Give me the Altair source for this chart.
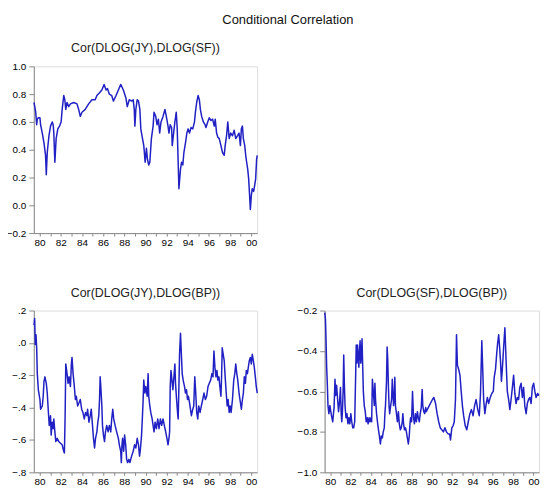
import altair as alt
import pandas as pd

# ---------------- data ----------------
X_TICKS = list(range(1980, 2001))

years_jy_sf = [1979.47, 1979.63, 1979.72, 1979.78, 1979.88, 1980.03, 1980.09, 1980.25, 1980.41, 1980.56,
               1980.63, 1980.72, 1980.88, 1981.03, 1981.19, 1981.28, 1981.34, 1981.44, 1981.56, 1981.72,
               1981.88, 1982.03, 1982.13, 1982.28, 1982.38, 1982.47, 1982.59, 1982.75, 1982.91, 1983.22,
               1983.53, 1983.69, 1983.84, 1984.00, 1984.31, 1984.63, 1984.94, 1985.25, 1985.41, 1985.66,
               1985.88, 1986.09, 1986.28, 1986.41, 1986.59, 1986.81, 1986.97, 1987.22, 1987.44, 1987.66,
               1987.91, 1988.16, 1988.28, 1988.47, 1988.69, 1988.84, 1988.94, 1989.00, 1989.09, 1989.22,
               1989.34, 1989.47, 1989.56, 1989.72, 1989.84, 1989.97, 1990.09, 1990.19, 1990.31, 1990.41,
               1990.56, 1990.72, 1990.81, 1990.97, 1991.09, 1991.22, 1991.34, 1991.47, 1991.66, 1991.84,
               1991.97, 1992.13, 1992.22, 1992.34, 1992.47, 1992.53, 1992.63, 1992.78, 1992.91, 1993.00,
               1993.16, 1993.31, 1993.41, 1993.53, 1993.63, 1993.78, 1993.91, 1994.03, 1994.16, 1994.31,
               1994.47, 1994.63, 1994.72, 1994.84, 1994.97, 1995.09, 1995.19, 1995.31, 1995.47, 1995.63,
               1995.72, 1995.88, 1996.03, 1996.19, 1996.34, 1996.50, 1996.59, 1996.72, 1996.84, 1996.97,
               1997.13, 1997.28, 1997.44, 1997.53, 1997.66, 1997.78, 1997.91, 1998.06, 1998.22, 1998.38,
               1998.53, 1998.69, 1998.84, 1998.97, 1999.06, 1999.16, 1999.25, 1999.38, 1999.47, 1999.56,
               1999.66, 1999.75, 1999.84, 1999.91, 2000.00, 2000.09, 2000.22, 2000.31, 2000.41, 2000.50,
               2000.56]
corr_jy_sf = [0.74, 0.67, 0.58, 0.62, 0.63, 0.63, 0.58, 0.52, 0.45, 0.36,
              0.22, 0.38, 0.50, 0.57, 0.60, 0.58, 0.52, 0.31, 0.48, 0.55,
              0.57, 0.60, 0.69, 0.79, 0.76, 0.69, 0.74, 0.71, 0.73, 0.74,
              0.73, 0.69, 0.64, 0.67, 0.69, 0.73, 0.76, 0.76, 0.79, 0.81,
              0.83, 0.87, 0.83, 0.84, 0.80, 0.79, 0.75, 0.79, 0.83, 0.87,
              0.83, 0.77, 0.71, 0.76, 0.75, 0.76, 0.69, 0.57, 0.69, 0.76,
              0.75, 0.69, 0.55, 0.48, 0.43, 0.31, 0.41, 0.33, 0.29, 0.31,
              0.48, 0.57, 0.67, 0.64, 0.58, 0.62, 0.52, 0.60, 0.64, 0.69,
              0.64, 0.57, 0.52, 0.58, 0.56, 0.43, 0.50, 0.60, 0.67, 0.55,
              0.12, 0.26, 0.31, 0.29, 0.38, 0.45, 0.52, 0.55, 0.52, 0.56,
              0.55, 0.60, 0.67, 0.74, 0.79, 0.76, 0.69, 0.64, 0.60, 0.58,
              0.56, 0.60, 0.63, 0.61, 0.62, 0.57, 0.62, 0.52, 0.49, 0.48,
              0.43, 0.38, 0.36, 0.43, 0.50, 0.60, 0.48, 0.52, 0.50, 0.54,
              0.48, 0.50, 0.52, 0.43, 0.55, 0.57, 0.48, 0.43, 0.36, 0.31,
              0.26, 0.19, 0.07, -0.03, 0.07, 0.12, 0.10, 0.14, 0.19, 0.33,
              0.36]

years_jy_bp = [1979.47, 1979.53, 1979.59, 1979.66, 1979.72, 1979.78, 1979.88, 1980.03, 1980.09, 1980.25,
               1980.34, 1980.41, 1980.50, 1980.63, 1980.72, 1980.81, 1980.91, 1981.03, 1981.09, 1981.19,
               1981.28, 1981.34, 1981.44, 1981.53, 1981.66, 1981.81, 1981.97, 1982.13, 1982.28, 1982.34,
               1982.41, 1982.47, 1982.59, 1982.69, 1982.78, 1982.91, 1983.00, 1983.06, 1983.16, 1983.28,
               1983.38, 1983.47, 1983.59, 1983.72, 1983.84, 1983.97, 1984.09, 1984.22, 1984.34, 1984.47,
               1984.53, 1984.66, 1984.78, 1984.88, 1984.97, 1985.09, 1985.19, 1985.28, 1985.41, 1985.50,
               1985.59, 1985.66, 1985.72, 1985.78, 1985.88, 1985.94, 1986.03, 1986.13, 1986.22, 1986.34,
               1986.47, 1986.59, 1986.72, 1986.81, 1986.91, 1987.00, 1987.13, 1987.28, 1987.44, 1987.53,
               1987.66, 1987.72, 1987.78, 1987.84, 1987.94, 1988.03, 1988.13, 1988.22, 1988.31, 1988.44,
               1988.53, 1988.69, 1988.84, 1988.97, 1989.09, 1989.22, 1989.34, 1989.44, 1989.53, 1989.63,
               1989.69, 1989.78, 1989.84, 1989.94, 1990.03, 1990.16, 1990.25, 1990.31, 1990.41, 1990.50,
               1990.63, 1990.72, 1990.81, 1990.91, 1991.03, 1991.16, 1991.28, 1991.41, 1991.53, 1991.66,
               1991.78, 1991.91, 1992.03, 1992.13, 1992.22, 1992.28, 1992.34, 1992.41, 1992.50, 1992.59,
               1992.69, 1992.78, 1992.84, 1992.94, 1993.03, 1993.09, 1993.16, 1993.22, 1993.31, 1993.38,
               1993.47, 1993.56, 1993.69, 1993.78, 1993.88, 1993.97, 1994.06, 1994.16, 1994.25, 1994.34,
               1994.47, 1994.56, 1994.66, 1994.75, 1994.84, 1994.94, 1995.03, 1995.16, 1995.28, 1995.41,
               1995.53, 1995.66, 1995.78, 1995.91, 1996.03, 1996.16, 1996.28, 1996.38, 1996.47, 1996.56,
               1996.66, 1996.75, 1996.84, 1996.94, 1997.03, 1997.13, 1997.19, 1997.25, 1997.34, 1997.44,
               1997.53, 1997.63, 1997.72, 1997.81, 1997.91, 1998.00, 1998.09, 1998.22, 1998.34, 1998.44,
               1998.53, 1998.63, 1998.72, 1998.84, 1998.97, 1999.06, 1999.16, 1999.25, 1999.34, 1999.44,
               1999.53, 1999.63, 1999.72, 1999.81, 1999.91, 2000.00, 2000.09, 2000.19, 2000.28, 2000.38,
               2000.47, 2000.56]
corr_jy_bp = [0.11, 0.15, -0.01, 0.05, -0.03, -0.19, -0.29, -0.35, -0.41, -0.39,
              -0.33, -0.24, -0.21, -0.25, -0.31, -0.41, -0.51, -0.45, -0.57, -0.49,
              -0.53, -0.47, -0.55, -0.61, -0.59, -0.61, -0.62, -0.63, -0.67, -0.68,
              -0.45, -0.13, -0.19, -0.25, -0.21, -0.27, -0.13, -0.09, -0.19, -0.27,
              -0.35, -0.33, -0.39, -0.37, -0.35, -0.41, -0.43, -0.47, -0.43, -0.45,
              -0.41, -0.49, -0.45, -0.41, -0.49, -0.59, -0.65, -0.59, -0.55, -0.49,
              -0.45, -0.35, -0.21, -0.27, -0.39, -0.51, -0.57, -0.61, -0.55, -0.51,
              -0.55, -0.51, -0.55, -0.47, -0.41, -0.47, -0.51, -0.55, -0.59, -0.63,
              -0.67, -0.74, -0.63, -0.59, -0.67, -0.57, -0.63, -0.72, -0.74, -0.72,
              -0.74, -0.70, -0.67, -0.63, -0.65, -0.59, -0.63, -0.70, -0.65, -0.57,
              -0.49, -0.35, -0.23, -0.31, -0.27, -0.33, -0.19, -0.33, -0.39, -0.43,
              -0.47, -0.51, -0.55, -0.49, -0.53, -0.47, -0.53, -0.47, -0.51, -0.47,
              -0.51, -0.55, -0.59, -0.63, -0.59, -0.55, -0.27, -0.17, -0.23, -0.29,
              -0.21, -0.13, -0.25, -0.35, -0.43, -0.47, -0.27, -0.07, 0.06, -0.05,
              -0.19, -0.23, -0.27, -0.31, -0.29, -0.35, -0.33, -0.37, -0.41, -0.45,
              -0.41, -0.39, -0.21, -0.31, -0.43, -0.47, -0.39, -0.43, -0.39, -0.35,
              -0.31, -0.35, -0.33, -0.27, -0.25, -0.23, -0.19, -0.21, -0.05, -0.15,
              -0.21, -0.17, -0.23, -0.21, -0.27, -0.33, -0.21, -0.03, -0.07, -0.11,
              -0.21, -0.31, -0.39, -0.35, -0.43, -0.39, -0.43, -0.35, -0.23, -0.19,
              -0.13, -0.19, -0.23, -0.31, -0.37, -0.41, -0.35, -0.31, -0.21, -0.25,
              -0.17, -0.19, -0.15, -0.11, -0.09, -0.13, -0.07, -0.11, -0.15, -0.21,
              -0.27, -0.31]

years_sf_bp = [1979.46, 1979.53, 1979.59, 1979.65, 1979.72, 1979.78, 1979.87, 1979.97, 1980.06, 1980.16,
               1980.25, 1980.32, 1980.38, 1980.47, 1980.54, 1980.63, 1980.73, 1980.82, 1980.92, 1981.01,
               1981.08, 1981.14, 1981.20, 1981.27, 1981.33, 1981.39, 1981.46, 1981.55, 1981.65, 1981.74,
               1981.84, 1981.93, 1982.03, 1982.12, 1982.22, 1982.31, 1982.41, 1982.50, 1982.56, 1982.63,
               1982.69, 1982.75, 1982.82, 1982.88, 1982.94, 1983.01, 1983.07, 1983.13, 1983.20, 1983.26,
               1983.35, 1983.45, 1983.54, 1983.64, 1983.73, 1983.83, 1983.92, 1984.02, 1984.08, 1984.15,
               1984.24, 1984.34, 1984.40, 1984.46, 1984.56, 1984.65, 1984.75, 1984.84, 1984.94, 1985.03,
               1985.13, 1985.22, 1985.32, 1985.38, 1985.44, 1985.54, 1985.60, 1985.66, 1985.73, 1985.79,
               1985.85, 1985.95, 1986.04, 1986.11, 1986.17, 1986.23, 1986.30, 1986.36, 1986.42, 1986.52,
               1986.61, 1986.71, 1986.80, 1986.90, 1986.99, 1987.09, 1987.15, 1987.22, 1987.31, 1987.41,
               1987.50, 1987.59, 1987.69, 1987.78, 1987.85, 1987.91, 1988.01, 1988.10, 1988.20, 1988.29,
               1988.39, 1988.48, 1988.58, 1988.67, 1988.77, 1988.86, 1988.96, 1989.05, 1989.11, 1989.21,
               1989.30, 1989.40, 1989.45, 1989.75, 1990.06, 1990.20, 1990.37, 1990.52, 1990.68, 1990.83,
               1990.98, 1991.14, 1991.29, 1991.44, 1991.60, 1991.75, 1991.84, 1991.97, 1992.09, 1992.21,
               1992.33, 1992.43, 1992.52, 1992.64, 1992.77, 1992.89, 1993.01, 1993.13, 1993.29, 1993.44,
               1993.59, 1993.75, 1993.90, 1994.06, 1994.21, 1994.36, 1994.52, 1994.67, 1994.79, 1994.92,
               1995.01, 1995.10, 1995.22, 1995.35, 1995.47, 1995.59, 1995.75, 1995.90, 1996.05, 1996.14,
               1996.27, 1996.39, 1996.48, 1996.58, 1996.67, 1996.76, 1996.85, 1996.94, 1997.07, 1997.19,
               1997.31, 1997.43, 1997.56, 1997.68, 1997.80, 1997.93, 1998.05, 1998.17, 1998.29, 1998.42,
               1998.54, 1998.66, 1998.79, 1998.91, 1999.03, 1999.15, 1999.28, 1999.40, 1999.52, 1999.65,
               1999.77, 1999.89, 2000.02, 2000.14, 2000.26, 2000.41, 2000.55]
corr_sf_bp = [-0.21, -0.24, -0.35, -0.48, -0.57, -0.67, -0.71, -0.67, -0.70, -0.73,
              -0.75, -0.71, -0.68, -0.54, -0.62, -0.57, -0.64, -0.70, -0.65, -0.58,
              -0.71, -0.75, -0.70, -0.60, -0.42, -0.56, -0.67, -0.73, -0.71, -0.76,
              -0.73, -0.76, -0.71, -0.75, -0.78, -0.78, -0.75, -0.53, -0.37, -0.46,
              -0.37, -0.42, -0.48, -0.40, -0.35, -0.46, -0.42, -0.34, -0.48, -0.60,
              -0.67, -0.70, -0.75, -0.73, -0.76, -0.73, -0.75, -0.73, -0.75, -0.54,
              -0.60, -0.67, -0.56, -0.64, -0.71, -0.75, -0.79, -0.82, -0.86, -0.82,
              -0.83, -0.80, -0.78, -0.71, -0.67, -0.55, -0.38, -0.44, -0.58, -0.67,
              -0.71, -0.67, -0.64, -0.54, -0.60, -0.67, -0.64, -0.53, -0.67, -0.71,
              -0.75, -0.70, -0.76, -0.79, -0.78, -0.75, -0.71, -0.76, -0.79, -0.78,
              -0.80, -0.83, -0.86, -0.82, -0.76, -0.73, -0.75, -0.60, -0.73, -0.76,
              -0.71, -0.75, -0.70, -0.73, -0.75, -0.71, -0.68, -0.59, -0.67, -0.70,
              -0.71, -0.68, -0.70, -0.67, -0.64, -0.63, -0.66, -0.71, -0.75, -0.78,
              -0.79, -0.80, -0.78, -0.80, -0.81, -0.81, -0.84, -0.78, -0.77, -0.75,
              -0.64, -0.32, -0.47, -0.49, -0.52, -0.60, -0.67, -0.72, -0.77, -0.79,
              -0.75, -0.71, -0.69, -0.72, -0.67, -0.64, -0.69, -0.72, -0.61, -0.35,
              -0.49, -0.64, -0.71, -0.66, -0.63, -0.66, -0.63, -0.61, -0.60, -0.53,
              -0.49, -0.41, -0.36, -0.32, -0.38, -0.45, -0.55, -0.49, -0.38, -0.285,
              -0.45, -0.60, -0.64, -0.69, -0.64, -0.58, -0.52, -0.61, -0.66, -0.63,
              -0.64, -0.58, -0.56, -0.63, -0.58, -0.67, -0.71, -0.66, -0.64, -0.63,
              -0.66, -0.58, -0.56, -0.60, -0.63, -0.61, -0.62]

FONT = "Liberation Sans"
LINE_COLOR = "#2020c4"
FRAME = "#4a4a4a"


def panel(years, values, title, y_domain, y_values, y_label_expr, width, height):
    df = pd.DataFrame({"year": years, "corr": values})
    return (
        alt.Chart(df)
        .mark_line(color=LINE_COLOR, strokeWidth=1.5, strokeJoin="round")
        .encode(
            x=alt.X(
                "year:Q",
                scale=alt.Scale(domain=[1979.45, 2000.55], nice=False, zero=False),
                axis=alt.Axis(
                    values=X_TICKS,
                    labelExpr="datum.value % 2 == 0 ? slice(toString(datum.value), 2) : ''",
                    title=None,
                    grid=False,
                    tickSize=3,
                    labelPadding=1,
                    labelOverlap=False,
                    minExtent=15,
                    maxExtent=15,
                ),
            ),
            y=alt.Y(
                "corr:Q",
                scale=alt.Scale(domain=y_domain, nice=False, zero=False),
                axis=alt.Axis(
                    values=y_values,
                    labelExpr=y_label_expr,
                    title=None,
                    grid=False,
                    tickSize=5,
                    labelPadding=3,
                    minExtent=23,
                    maxExtent=23,
                ),
            ),
        )
        .properties(
            width=width,
            height=height,
            title=alt.TitleParams(title, fontSize=12.5, font=FONT, fontWeight="normal",
                                  color="#222222", offset=6.5),
        )
    )


top = panel(years_jy_sf, corr_jy_sf, "Cor(DLOG(JY),DLOG(SF))", [-0.2, 1.0],
            [-0.2, 0.0, 0.2, 0.4, 0.6, 0.8, 1.0], "format(datum.value, '.1f')", 225, 168)
bottom_left = panel(years_jy_bp, corr_jy_bp, "Cor(DLOG(JY),DLOG(BP))", [-0.8, 0.2],
                    [-0.8, -0.6, -0.4, -0.2, 0.0, 0.2],
                    "replace(format(datum.value, '.1f'), '0.', '.')", 225, 163)
bottom_right = panel(years_sf_bp, corr_sf_bp, "Cor(DLOG(SF),DLOG(BP))", [-1.0, -0.2],
                     [-1.0, -0.8, -0.6, -0.4, -0.2], "format(datum.value, '.1f')", 216, 163)

chart = (
    alt.vconcat(top, alt.hconcat(bottom_left, bottom_right, spacing=37), spacing=37)
    .properties(
        title=alt.TitleParams("Conditional Correlation", anchor="middle", dx=15, fontSize=13,
                              font=FONT, fontWeight="normal", color="#111111", offset=15),
        padding={"left": -3, "top": 4, "right": 0, "bottom": -4},
    )
    .configure_view(stroke=FRAME, strokeWidth=1)
    .configure_axis(domainColor=FRAME, tickColor=FRAME, labelColor="#333333",
                    labelFont=FONT, labelFontSize=9.5)
    .configure(background="white")
)

chart.save("out.html", embed_options={"renderer": "svg", "actions": False})
